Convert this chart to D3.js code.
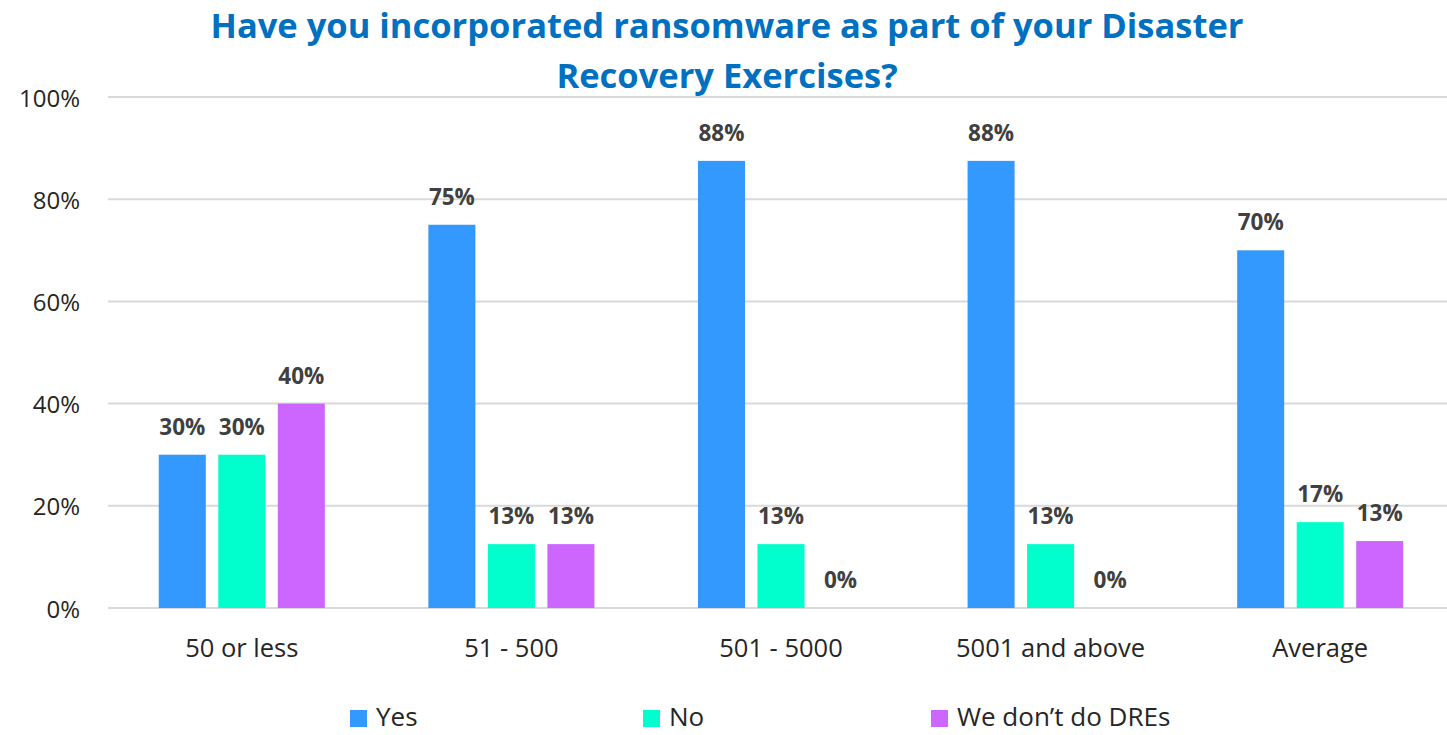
<!DOCTYPE html>
<html><head><meta charset="utf-8">
<script src="https://cdn.jsdelivr.net/npm/d3@7"></script>
<style>body{margin:0;background:#fff}svg{display:block}</style>
</head><body>
<svg id="chart" width="1447" height="735"></svg>
<script>
const categories = ["50 or less", "51 - 500", "501 - 5000", "5001 and above", "Average"];
const seriesNames = ["Yes", "No", "We don\u2019t do DREs"];
const yesValues = [30, 75, 87.5, 87.5, 70];
const noValues = [30, 12.5, 12.5, 12.5, 16.8];
const dreValues = [40, 12.5, 0, 0, 13.1];
const valueLabels = [["30%","75%","88%","88%","70%"],["30%","13%","13%","13%","17%"],["40%","13%","0%","0%","13%"]];
const yTicks = [0, 20, 40, 60, 80, 100];
const colors = ["#3399FF", "#00FFCC", "#CC66FF"];
const titleLines = ["Have you incorporated ransomware as part of your Disaster", "Recovery Exercises?"];

const svg = d3.select("#chart");
const font = "'Open Sans', sans-serif";
const m = {left: 107, right: 1455, top: 97, bottom: 608};
const x0 = d3.scaleBand().domain(categories).range([m.left, m.right]).paddingInner(0).paddingOuter(0);
const x1 = d3.scaleBand().domain(seriesNames).range([0, x0.bandwidth()]).paddingInner(0.21).paddingOuter(0.87);
const y = d3.scaleLinear().domain([0, 100]).range([m.bottom, m.top]);

// grid
svg.append("g").selectAll("line").data(yTicks).join("line")
  .attr("x1", 108).attr("x2", 1447)
  .attr("y1", d => y(d)).attr("y2", d => y(d))
  .attr("stroke", "#d9d9d9").attr("stroke-width", 2);

// y axis
const yAxis = d3.axisLeft(y).tickValues(yTicks).tickFormat(d => d + "%").tickSize(0).tickPadding(0);
const ya = svg.append("g").attr("transform", `translate(80,0)`).call(yAxis);
ya.select(".domain").remove();
ya.selectAll("text").attr("font-family", font).attr("font-size", 24).attr("fill", "#262626").attr("dy", 9);

// x axis
const xAxis = d3.axisBottom(x0).tickSize(0).tickPadding(0);
const xa = svg.append("g").attr("transform", `translate(0,${m.bottom})`).call(xAxis);
xa.select(".domain").remove();
xa.selectAll("text").attr("font-family", font).attr("font-size", 25.5).attr("fill", "#262626")
  .attr("y", 49).attr("dy", 0);

const series = [yesValues, noValues, dreValues];
series.forEach((vals, si) => {
  const g = svg.append("g");
  g.selectAll("rect").data(vals).join("rect")
    .attr("x", (d, i) => x0(categories[i]) + x1(seriesNames[si]))
    .attr("width", x1.bandwidth())
    .attr("y", d => y(d))
    .attr("height", d => y(0) - y(d))
    .attr("fill", colors[si]);
  g.selectAll("text").data(vals).join("text")
    .attr("x", (d, i) => x0(categories[i]) + x1(seriesNames[si]) + x1.bandwidth() / 2)
    .attr("y", d => y(d) - 20)
    .attr("text-anchor", "middle")
    .attr("font-family", font).attr("font-weight", "bold").attr("font-size", 22.5)
    .attr("fill", "#404040")
    .text((d, i) => valueLabels[si][i]);
});

// title
titleLines.forEach((t, i) => {
  svg.append("text").attr("x", 727).attr("y", 38 + i * 50)
    .attr("text-anchor", "middle")
    .attr("font-family", font).attr("font-weight", "bold").attr("font-size", 34.5)
    .attr("fill", "#0070C0").text(t);
});

// legend
const legendX = [350, 643, 931];
const lg = svg.append("g").selectAll("g").data(seriesNames).join("g")
  .attr("transform", (d, i) => `translate(${legendX[i]},710)`);
lg.append("rect").attr("width", 17).attr("height", 17).attr("fill", (d, i) => colors[i]);
lg.append("text").attr("x", 26).attr("y", 16)
  .attr("font-family", font).attr("font-size", 26).attr("fill", "#262626").text(d => d);
</script>
</body></html>
